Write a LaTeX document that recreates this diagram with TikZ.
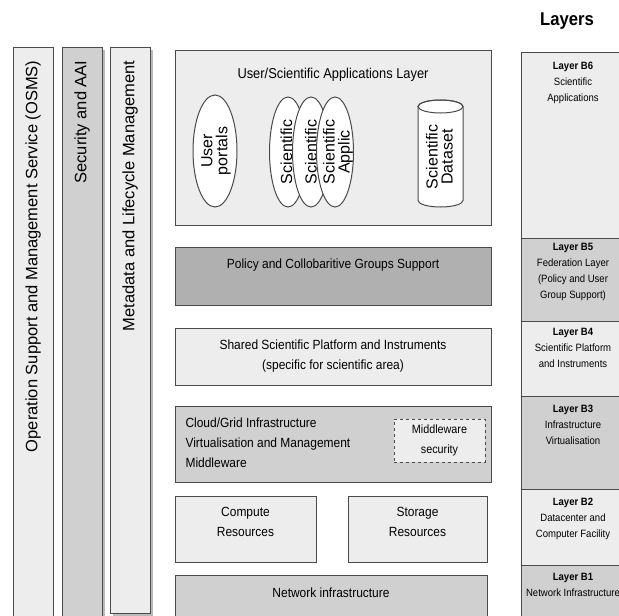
\documentclass[tikz,border=0pt]{standalone}
\usepackage{fontspec}
\setmainfont{Liberation Sans}[FakeStretch=0.9]
\newfontfamily\vertfont{Liberation Sans}
\usetikzlibrary{positioning, shapes.geometric, shadows}

\definecolor{boxlight}{HTML}{EDEDED}
\definecolor{boxmid}{HTML}{D0D0D0}
\definecolor{boxdark}{HTML}{B0B0B0}
\definecolor{edgegray}{HTML}{4A4A4A}

\tikzset{
  box/.style={draw=edgegray, line width=1pt, inner sep=0pt},
  colbox/.style={box, minimum width=40},
  coltext/.style={rotate=90, anchor=east, font=\vertfont\fontsize{16.5}{18}\selectfont},
  midtext/.style={align=center, font=\fontsize{13.3}{20}\selectfont},
  appbox/.style={box, fill=white, rotate=90},
  vtext/.style={rotate=90, align=center, font=\vertfont\fontsize{16}{15}\selectfont},
  laybox/.style={box, minimum width=104},
  laytext/.style={align=center, anchor=north, font=\fontsize{10.6}{16}\selectfont},
  shade/.style={drop shadow={shadow xshift=3pt, shadow yshift=-3pt, opacity=.45, fill=black!60}}
}

\begin{document}
\begin{tikzpicture}[x=1pt, y=1pt]
\useasboundingbox (0,0) rectangle (619,-616);
\clip (0,0) rectangle (619,-616);

% vertical columns
\node[colbox, fill=boxlight, minimum height=583] (osms) at (33,-338.5) {};
\node[colbox, fill=boxmid, minimum height=583, shade] (sec) at (82,-338.5) {};
\node[colbox, fill=boxlight, minimum height=566, shade] (meta) at (130,-330) {};
\node[coltext] (osmstxt) at (33,-57) {Operation Support and Management Service (OSMS)};
\node[coltext] (sectxt) at (82,-57) {Security and AAI};
\node[coltext] (metatxt) at (130,-57) {Metadata and Lifecycle Management};

% applications layer
\node[box, fill=boxlight, minimum width=316, minimum height=175] (app) at (333,-137.5) {};
\node[midtext, font=\fontsize{14.3}{20}\selectfont] (apptxt) at (333,-75) {User/Scientific Applications Layer};

\node[appbox, ellipse, minimum width=112, minimum height=44] (portals) at (215,-151) {};
\node[vtext] (portalstxt) at (216,-151) {User\\portals};

\node[appbox, ellipse, minimum width=110, minimum height=37] (sci1) at (288,-152) {};
\node[vtext] (sci1txt) at (286.5,-152) {Scientific};
\node[appbox, ellipse, minimum width=110, minimum height=37] (sci2) at (311,-152) {};
\node[vtext] (sci2txt) at (311,-152) {Scientific};
\node[appbox, ellipse, minimum width=110, minimum height=37] (sci3) at (335,-152) {};
\node[vtext] (sci3txt) at (338,-152) {Scientific\\Applic};

% dataset cylinder
\filldraw[draw=edgegray, line width=1pt, fill=white]
  (418,-106.5) -- (418,-200.5) arc[start angle=180, end angle=360, x radius=22.5, y radius=6.5]
  -- (463,-106.5) arc[start angle=0, end angle=180, x radius=22.5, y radius=6.5] -- cycle;
\draw[edgegray, line width=1pt] (440.5,-106.5) ellipse[x radius=22.5, y radius=6.5];
\node[vtext] (datasettxt) at (439.5,-157) {Scientific\\Dataset};

% middle layers
\node[box, fill=boxdark, minimum width=316, minimum height=58] (policy) at (333,-276) {};
\node[midtext] (policytxt) at (333,-265) {Policy and Collobaritive Groups Support};

\node[box, fill=boxlight, minimum width=316, minimum height=57] (shared) at (333,-356.5) {};
\node[midtext] (sharedtxt) at (333,-356) {Shared Scientific Platform and Instruments\\(specific for scientific area)};

\node[box, fill=boxmid, minimum width=316, minimum height=76] (cloud) at (333,-444) {};
\node[midtext, align=left, anchor=west] (cloudtxt) at (182,-443) {Cloud/Grid Infrastructure\\Virtualisation and Management\\Middleware};
\node[box, dashed, fill=boxlight, minimum width=91, minimum height=43, midtext, font=\fontsize{12}{20}\selectfont] (midsec) at (439.5,-440.5) {Middleware\\security};

\node[box, fill=boxlight, minimum width=141, minimum height=66] (compute) at (245.5,-529) {};
\node[midtext] (computetxt) at (245.5,-522) {Compute\\Resources};
\node[box, fill=boxlight, minimum width=139, minimum height=66] (storage) at (417.5,-529) {};
\node[midtext] (storagetxt) at (417.5,-522) {Storage\\Resources};

\node[box, fill=boxmid, minimum width=312, minimum height=60] (network) at (331,-605) {};
\node[midtext] (networktxt) at (331,-593) {Network infrastructure};

% layers column
\node[font=\bfseries\fontsize{18.5}{20}\selectfont] (layers) at (567,-21) {Layers};
\node[laybox, fill=boxlight, minimum height=186] (b6) at (573,-145) {};
\node[laybox, fill=boxmid, minimum height=83] (b5) at (573,-279.5) {};
\node[laybox, fill=boxlight, minimum height=75] (b4) at (573,-358.5) {};
\node[laybox, fill=boxmid, minimum height=93] (b3) at (573,-442.5) {};
\node[laybox, fill=boxlight, minimum height=76] (b2) at (573,-527) {};
\node[laybox, fill=boxmid, minimum height=65] (b1) at (573,-597.5) {};

\node[laytext, below=7pt of b6.north] (b6txt) {\textbf{Layer B6}\\Scientific\\Applications};
\node[laytext, below=2pt of b5.north] (b5txt) {\textbf{Layer B5}\\Federation Layer\\(Policy and User\\Group Support)};
\node[laytext, below=4pt of b4.north] (b4txt) {\textbf{Layer B4}\\Scientific Platform\\and Instruments};
\node[laytext, below=6pt of b3.north] (b3txt) {\textbf{Layer B3}\\Infrastructure\\Virtualisation};
\node[laytext, below=6pt of b2.north] (b2txt) {\textbf{Layer B2}\\Datacenter and\\Computer Facility};
\node[laytext, below=5pt of b1.north] (b1txt) {\textbf{Layer B1}\\Network Infrastructure};
\end{tikzpicture}
\end{document}
